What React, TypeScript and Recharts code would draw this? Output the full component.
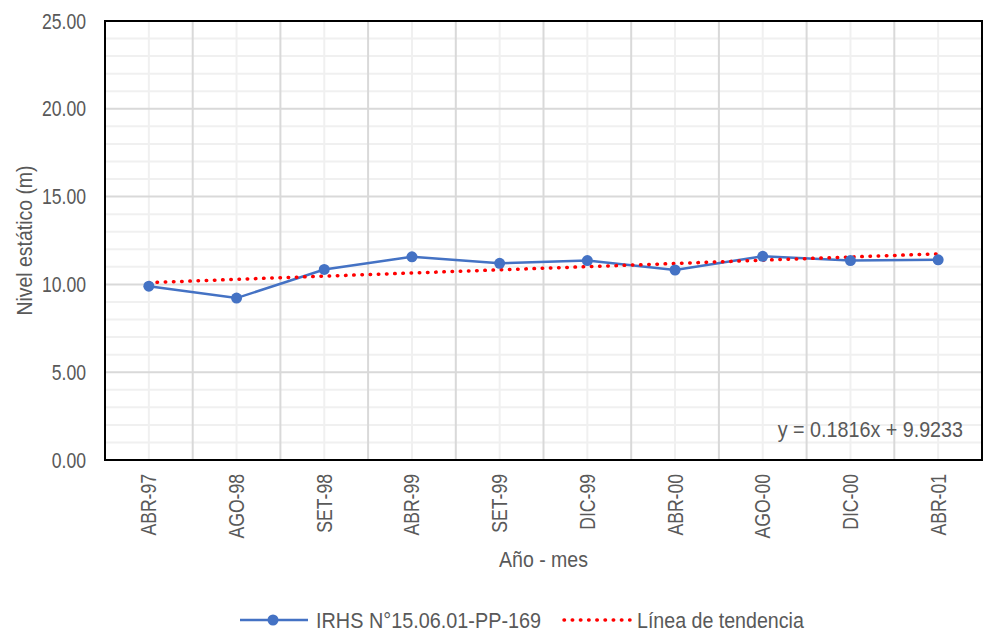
import React from 'react';
import { LineChart, Line, XAxis, YAxis, CartesianGrid, Legend, ReferenceArea, Label } from 'recharts';

const meses = ['ABR-97', 'AGO-98', 'SET-98', 'ABR-99', 'SET-99', 'DIC-99', 'ABR-00', 'AGO-00', 'DIC-00', 'ABR-01'];
const nivel = [9.9, 9.22, 10.85, 11.57, 11.2, 11.36, 10.82, 11.6, 11.36, 11.4];
// y = 0.1816x + 9.9233
const tendencia = [10.1, 10.29, 10.47, 10.65, 10.83, 11.01, 11.19, 11.38, 11.56, 11.74];

const yTicks = [0, 5, 10, 15, 20, 25];
const yMinor = [1, 2, 3, 4, 6, 7, 8, 9, 11, 12, 13, 14, 16, 17, 18, 19, 21, 22, 23, 24];

const serieNombre = 'IRHS N°15.06.01-PP-169';
const tendNombre = 'Línea de tendencia';
const ecuacion = 'y = 0.1816x + 9.9233';

const data = meses.map((m, i) => ({ mes: m, nivel: nivel[i], tendencia: tendencia[i] }));

const FONT = '"Liberation Sans", Arial, sans-serif';
const TXT = '#595959';
const BLUE = '#4472C4';
const RED = '#FF0000';

// text squeezed horizontally, the original uses a narrow face
const SText = ({ x, y, sx, rot = 0, anchor = 'start', dy = 0, children }: any) => (
  <text transform={`translate(${x} ${y}) rotate(${rot}) scale(${sx} 1)`} x={0} y={0} dy={dy}
    textAnchor={anchor} fill={TXT} fontSize={22} fontFamily={FONT}>
    {children}
  </text>
);

const XTick = (props: any) => {
  const { x, y, payload } = props;
  return <SText x={x} y={y} rot={-90} sx={0.8} anchor="end" dy={7.5}>{payload.value}</SText>;
};

const YTick = (props: any) => {
  const { x, y, payload } = props;
  return <SText x={x} y={y} sx={0.8} anchor="end" dy={7.5}>{Number(payload.value).toFixed(2)}</SText>;
};

const YLabel = (props: any) => {
  const vb = props.viewBox || { x: 0, y: 21, width: 105, height: 439 };
  return <SText x={vb.x + 32} y={vb.y + vb.height / 2} rot={-90} sx={0.883} anchor="middle">Nivel estático (m)</SText>;
};

const XLabel = (props: any) => {
  const vb = props.viewBox || { x: 105, y: 460, width: 877, height: 142 };
  return <SText x={vb.x + vb.width / 2} y={vb.y + 107} sx={0.888} anchor="middle">Año - mes</SText>;
};

const Ecuacion = (props: any) => {
  const vb = props.viewBox || { x: 105, y: 21, width: 877, height: 439 };
  return <SText x={vb.x + vb.width - 19} y={vb.y + vb.height - 23} sx={0.897} anchor="end">{ecuacion}</SText>;
};

const Leyenda = () => (
  <svg width={600} height={36} style={{ display: 'block' }}>
    <line x1={0} y1={18} x2={68} y2={18} stroke={BLUE} strokeWidth={2.5} />
    <circle cx={33} cy={18} r={5.5} fill={BLUE} />
    <SText x={76} y={26} sx={0.902}>{serieNombre}</SText>
    <line x1={324} y1={18} x2={390} y2={18} stroke={RED} strokeWidth={3.5} strokeDasharray="0.5 7.7" strokeLinecap="round" />
    <SText x={397} y={26} sx={0.892}>{tendNombre}</SText>
  </svg>
);

const majorVertical = ({ offset }: any) =>
  meses.slice(1).map((_, i) => offset.left + ((i + 1) * offset.width) / meses.length);

export default function App() {
  return (
    <div style={{ position: 'absolute', left: 0, top: 0, width: 984, height: 638, background: '#fff' }}>
      <LineChart width={984} height={638} data={data} margin={{ top: 21, right: 2, left: 0, bottom: 0 }}>
        <CartesianGrid horizontalValues={yMinor} stroke="#f0f0f0" strokeWidth={2} />
        <CartesianGrid horizontalValues={yTicks} verticalCoordinatesGenerator={majorVertical}
          stroke="#d9d9d9" strokeWidth={2} />
        <XAxis dataKey="mes" type="category" scale="band" height={142} interval={0} tick={<XTick />}
          tickLine={false} axisLine={false} tickSize={0} tickMargin={14}
          label={<XLabel />} />
        <YAxis width={105} domain={[0, 25]} ticks={yTicks} interval={0}
          tickLine={false} axisLine={false} tickSize={0} tickMargin={19}
          tick={<YTick />} label={<YLabel />} />
        <ReferenceArea y1={0} y2={25} fill="none" stroke="#000" strokeWidth={2} fillOpacity={0}
          ifOverflow="visible">
          <Label content={<Ecuacion />} />
        </ReferenceArea>
        <Line dataKey="nivel" name={serieNombre} stroke={BLUE} strokeWidth={2.5}
          dot={{ r: 5.5, fill: BLUE, stroke: 'none' }} isAnimationActive={false} />
        <Line dataKey="tendencia" name={tendNombre} stroke={RED} strokeWidth={3.5}
          strokeDasharray="0.5 7.7" strokeLinecap="round" dot={false} isAnimationActive={false} />
        <Legend verticalAlign="bottom" content={<Leyenda />}
          wrapperStyle={{ left: 240, width: 600, height: 36 }} />
      </LineChart>
    </div>
  );
}
